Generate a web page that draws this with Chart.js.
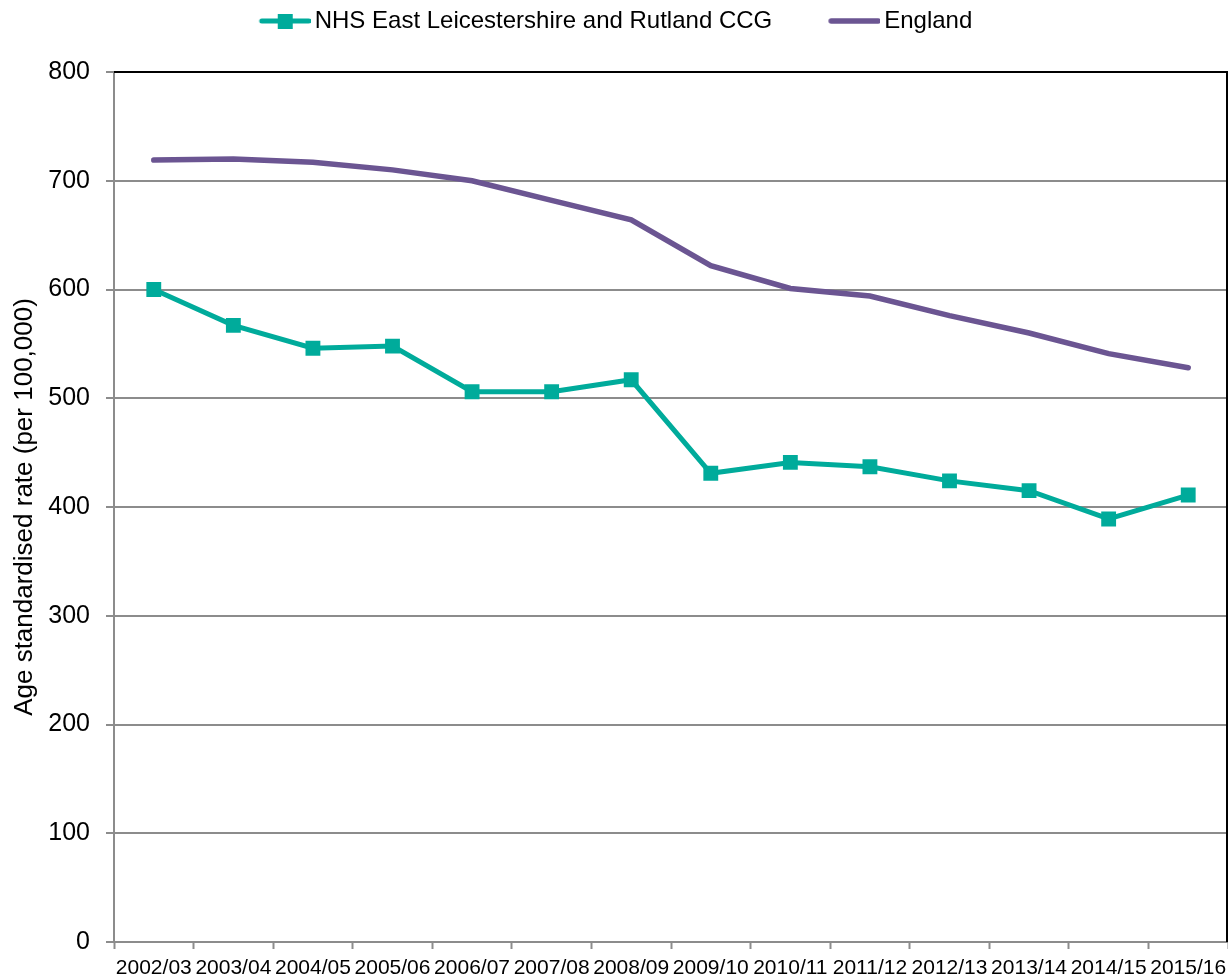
<!DOCTYPE html>
<html>
<head>
<meta charset="utf-8">
<script src="https://cdn.jsdelivr.net/npm/chart.js"></script>
<style>
  html, body { margin: 0; padding: 0; background: #fff; overflow: hidden; }
  canvas { display: block; }
</style>
</head>
<body>
<canvas id="rateChart" width="1228" height="978"></canvas>
<script>
const years = ['2002/03', '2003/04', '2004/05', '2005/06', '2006/07', '2007/08', '2008/09',
    '2009/10', '2010/11', '2011/12', '2012/13', '2013/14', '2014/15', '2015/16'];
const ccgRates = [600, 567, 546, 548, 506, 506, 517, 431, 441, 437, 424, 415, 389, 411];
const englandRates = [719, 720, 717, 710, 700, 682, 664, 622, 601, 594, 576, 560, 541, 528];
const yTicks = [0, 100, 200, 300, 400, 500, 600, 700, 800];

const teal = '#00ab9b';
const purple = '#6b5592';
const gridGrey = '#8c8c8c';
const font = 'Liberation Sans, Arial';

const legendPad = 53;      // gap between the two legend entries
const legendHeight = 72;   // space reserved above the plot
const legendTextY = 21;    // where the legend text should sit

// legend swatch: a 55px line (plus square marker for the CCG series)
function swatch(color, width, marker) {
    const c = document.createElement('canvas');
    c.width = 63; c.height = 18;
    const g = c.getContext('2d');
    g.strokeStyle = color;
    g.lineWidth = width;
    g.lineCap = 'round';
    g.beginPath(); g.moveTo(14, 9); g.lineTo(61, 9); g.stroke();
    if (marker) { g.fillStyle = color; g.fillRect(30, 2, 15, 15); }
    return c;
}

// squeeze the legend box and lift it so the text lands near the top edge
const legendPlacement = {
    id: 'legendPlacement',
    beforeInit(chart) {
        const fit = chart.legend.fit;
        chart.legend.fit = function () {
            fit.call(this);
            this.height = legendHeight;
        };
    },
    afterLayout(chart) {
        const lg = chart.legend;
        lg.top += legendTextY - (lg.top + legendPad + 12);
        // plot area runs to the right edge of the canvas
        chart.chartArea.right = chart.width;
        chart.scales.x.right = chart.width;
        chart.scales.x.width = chart.width - chart.scales.x.left;
        chart.scales.x._length = chart.scales.x.width;
        chart.scales.x.configure();
    }
};

// black frame on the top and right of the plot area
const plotFrame = {
    id: 'plotFrame',
    beforeDatasetsDraw(chart) {
        const { ctx, chartArea: a } = chart;
        ctx.save();
        ctx.strokeStyle = '#000';
        ctx.lineWidth = 2;
        ctx.beginPath();
        ctx.moveTo(a.left, a.top);
        ctx.lineTo(a.right - 1, a.top);
        ctx.lineTo(a.right - 1, a.bottom);
        ctx.stroke();
        ctx.restore();
    }
};

new Chart(document.getElementById('rateChart'), {
    type: 'line',
    data: {
        labels: years,
        datasets: [{
            label: 'NHS East Leicestershire and Rutland CCG',
            data: ccgRates,
            borderColor: teal,
            backgroundColor: teal,
            borderWidth: 5,
            pointStyle: 'rect',
            pointRadius: 10.5,
            pointHoverRadius: 10.5,
            pointBackgroundColor: teal,
            pointBorderWidth: 0,
            tension: 0,
            order: 1
        }, {
            label: 'England',
            data: englandRates,
            borderColor: purple,
            backgroundColor: purple,
            borderWidth: 5.5,
            borderCapStyle: 'round',
            pointRadius: 0,
            tension: 0,
            order: 2
        }]
    },
    options: {
        responsive: false,
        animation: false,
        layout: { padding: 0 },
        plugins: {
            tooltip: { enabled: false },
            legend: {
                position: 'top',
                labels: {
                    usePointStyle: true,
                    pointStyleWidth: 47,
                    color: '#000',
                    padding: legendPad,
                    font: { family: font, size: 24 },
                    generateLabels: chart => chart.data.datasets.map((ds, i) => ({
                        text: ds.label,
                        pointStyle: swatch(ds.borderColor, i === 0 ? 5 : 5.5, i === 0),
                        fillStyle: ds.borderColor,
                        strokeStyle: ds.borderColor,
                        lineWidth: 0,
                        fontColor: '#000',
                        datasetIndex: i
                    }))
                }
            }
        },
        scales: {
            x: {
                offset: true,
                grid: {
                    offset: true,
                    drawOnChartArea: false,
                    tickColor: gridGrey,
                    tickWidth: 2,
                    tickLength: 7
                },
                border: { color: gridGrey, width: 2 },
                ticks: {
                    color: '#000',
                    maxRotation: 0,
                    autoSkip: false,
                    padding: 7,
                    font: { family: font, size: 21 }
                },
                afterFit: scale => { scale.height = 36; }
            },
            y: {
                min: 0,
                max: 800,
                afterBuildTicks: scale => { scale.ticks = yTicks.map(v => ({ value: v })); },
                grid: {
                    color: gridGrey,
                    lineWidth: 2,
                    tickColor: gridGrey,
                    tickLength: 8
                },
                border: { color: gridGrey, width: 2 },
                ticks: {
                    color: '#000',
                    padding: 16,
                    font: { family: font, size: 25 }
                },
                title: {
                    display: true,
                    text: 'Age standardised rate (per 100,000)',
                    color: '#000',
                    padding: { top: 9, bottom: 0 },
                    font: { family: font, size: 26 }
                },
                afterFit: scale => { scale.width = 114; }
            }
        }
    },
    plugins: [legendPlacement, plotFrame]
});
</script>
</body>
</html>
